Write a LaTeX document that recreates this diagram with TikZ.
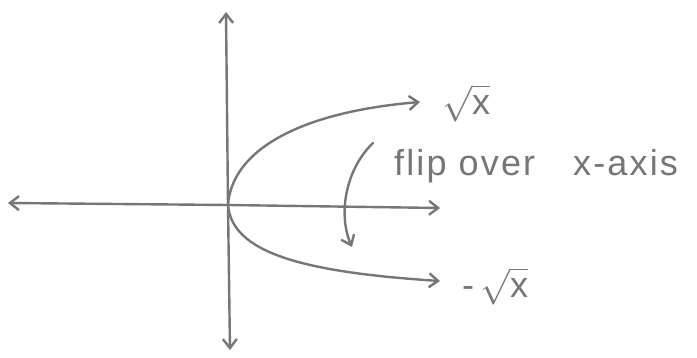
\documentclass[tikz,border=0pt]{standalone}
\usepackage{unicode-math}
\setmainfont{Liberation Sans}
\newfontfamily\handfont[LetterSpace=6]{Liberation Sans}
\usetikzlibrary{arrows.meta}
\begin{document}
\begin{tikzpicture}[x=1pt, y=-1pt]
    \definecolor{mypencil}{RGB}{118,118,118}
    \tikzset{
        pencil/.style={mypencil, line width=2.4pt, line cap=round},
        tip/.style={-{Straight Barb[length=9pt, width=14pt, line width=2.4pt]}},
        hand/.style={mypencil, font=\handfont\fontsize{36}{42}\selectfont, inner sep=0pt}
    }
    
    \useasboundingbox (0,0) rectangle (697,358);
    
    % axes
    \coordinate (o) at (228,205);
    \coordinate (xl) at (8,203);
    \coordinate (xr) at (440,208);
    \coordinate (yt) at (226,12);
    \coordinate (yb) at (230,350);
    \draw[pencil, tip] (o) -- (xl);
    \draw[pencil, tip] (o) -- (xr);
    \draw[pencil, tip] (o) -- (yt);
    \draw[pencil, tip] (o) -- (yb);
    
    % labels
    \node[hand, anchor=west] (sq) at (442,103) {$\sqrt{\mbox{x}}$};
    \node[hand, anchor=west] (msq) at (462,286) {-\,$\sqrt{\mbox{x}}$};
    \node[hand, anchor=west] (flip) at (394,166) {flip\hspace{12pt}over\hspace{38pt}x-axis};
    
    % curves
    \coordinate (sqend) at (420,102);
    \coordinate (msqend) at (440,281);
    \draw[pencil, tip] (o) .. controls (232,150) and (300,112) .. (sqend);
    \draw[pencil, tip] (o) .. controls (232,252) and (300,272) .. (msqend);
    
    % flip arrow
    \coordinate (fa) at (373,143);
    \coordinate (fb) at (352,247);
    \draw[pencil, tip] (fa) .. controls (345,170) and (338,215) .. (fb);
\end{tikzpicture}
\end{document}
